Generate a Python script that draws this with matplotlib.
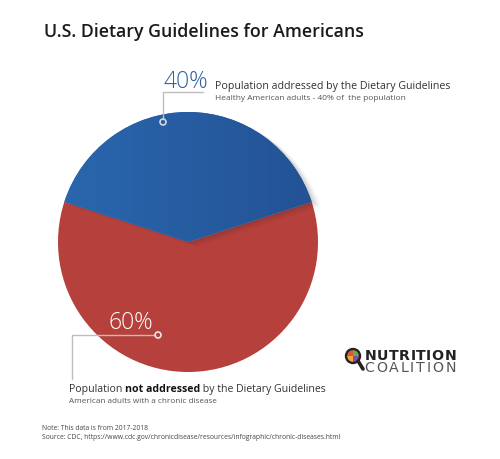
import matplotlib
matplotlib.use('Agg')
import matplotlib.pyplot as plt
from matplotlib.patches import Wedge, Circle
from matplotlib.colors import LinearSegmentedColormap
import numpy as np

# Data
shares = [40, 60]
share_labels = ['40%', '60%']
colors = ['#2760a5', '#b5403c']
groups = ['Population addressed by the Dietary Guidelines',
          'Population not addressed by the Dietary Guidelines']
details = ['Healthy American adults - 40% of  the population',
           'American adults with a chronic disease']
title = 'U.S. Dietary Guidelines for Americans'
note = 'Note: This data is from 2017-2018'
source = 'Source: CDC, https://www.cdc.gov/chronicdisease/resources/infographic/chronic-diseases.html'

plt.rcParams['font.family'] = ['Open Sans', 'DejaVu Sans']

fig = plt.figure(figsize=(5, 4.6), dpi=100)
ax = fig.add_axes([0, 0, 1, 1])

cx, cy, r = 188, 243, 130
# y axis is flipped (pixel-like), so 270 deg points up
start = 270 - shares[0] / sum(shares) * 180
wedges, _ = ax.pie(shares, colors=colors, startangle=start, counterclock=True,
                   center=(cx, cy), radius=r, wedgeprops=dict(linewidth=0))

# soft shadow of the blue slice
blue = wedges[0]
for k, a in enumerate([0.05, 0.05, 0.045, 0.04, 0.03, 0.02]):
    off = 1.5 + k * 1.6
    sh = Wedge((cx + off, cy + off * 0.5), r, blue.theta1, blue.theta2,
               facecolor='#303030', alpha=a, linewidth=0, zorder=1.5)
    ax.add_patch(sh)
wedges[0].set_zorder(3)
wedges[1].set_zorder(1)

# gradient on the blue slice
grad = np.linspace(0, 1, 256).reshape(1, -1)
cmap = LinearSegmentedColormap.from_list('b', ['#2a67ae', '#235294'])
im = ax.imshow(grad, cmap=cmap, extent=(cx - r, cx + r, cy, cy - r),
               aspect='auto', zorder=3.5)
im.set_clip_path(blue)

ax.set_xlim(0, 500)
ax.set_ylim(460, 0)
ax.axis('off')

ax.text(44, 32, title, fontsize=12.8, fontweight='semibold', color='#1a1a1a',
        va='center', ha='left')

line_c = '#bdbdbd'
# 40% annotation
px, py = 163, 123
ax.plot([px, px, px + 40], [py - 3, 93, 93], color=line_c, lw=1, zorder=5)
ax.add_patch(Circle((px, py), 3, facecolor='none', edgecolor='#d8d8d8', lw=1.2, zorder=6))
ax.text(164, 82, share_labels[0], fontsize=16.5, color='#2c5fa0', va='center',
        ha='left', fontweight='light')
ax.text(215, 87, groups[0], fontsize=7.7, color='#333333', va='center')
ax.text(215, 99, details[0], fontsize=6.0, color='#555555', va='center')

# 60% annotation
qx, qy = 158, 336
ax.plot([qx - 3, 72, 72], [qy, qy, 380], color=line_c, lw=1, zorder=5)
ax.add_patch(Circle((qx, qy), 3, facecolor='none', edgecolor='#e8e8e8', lw=1.2, zorder=6))
ax.text(109, 323, share_labels[1], fontsize=16.5, color='white', va='center',
        ha='left', fontweight='light', zorder=6)

fs = 7.6
fig.canvas.draw()
rend = fig.canvas.get_renderer()
inv = ax.transData.inverted()


def right_edge(t):
    bb = t.get_window_extent(rend)
    return inv.transform((bb.x1, bb.y0))[0]


parts = [('Population ', 'normal', '#333333'),
         ('not addressed', 'bold', '#111111'),
         (' by the Dietary Guidelines', 'normal', '#333333')]
x = 69
for s, w, c in parts:
    t = ax.text(x, 390, s, fontsize=fs, fontweight=w, color=c, va='center')
    x = right_edge(t)
ax.text(69, 402, details[1], fontsize=5.9, color='#555555', va='center')

ax.text(42, 429, note, fontsize=4.9, color='#444444', va='center')
ax.text(42, 438, source, fontsize=4.85, color='#444444', va='center')

# logo
lx, ly = 353, 357
quads = [(180, 270, '#e0563a'), (270, 360, '#5fae4a'),
         (0, 90, '#8a4d9e'), (90, 180, '#f2a531')]
for a1, a2, c in quads:
    ax.add_patch(Wedge((lx, ly), 6.2, a1, a2, facecolor=c, lw=0, zorder=6))
ax.add_patch(Circle((lx, ly), 7.0, facecolor='none', edgecolor='#222222', lw=1.7, zorder=7))
ax.plot([lx + 5.2, lx + 10], [ly + 5.2, ly + 13], color='#222222', lw=2.6,
        solid_capstyle='round', zorder=7)
for word, y, w, c, x0 in [('NUTRITION', 356, 'bold', '#222222', 365),
                          ('COALITION', 368.5, 'normal', '#555555', 364)]:
    texts = []
    widths = []
    for ch in word:
        t = ax.text(0, y, ch, fontsize=10.2, fontweight=w, color=c,
                    ha='left', va='center', family='DejaVu Sans')
        bb = t.get_window_extent(rend)
        widths.append(bb.width * 500 / fig.bbox.width)
        texts.append(t)
    gap = (456 - x0 - sum(widths)) / (len(word) - 1)
    x = x0
    for t, wd in zip(texts, widths):
        t.set_x(x)
        x += wd + gap

plt.savefig('out.png', dpi=100)
